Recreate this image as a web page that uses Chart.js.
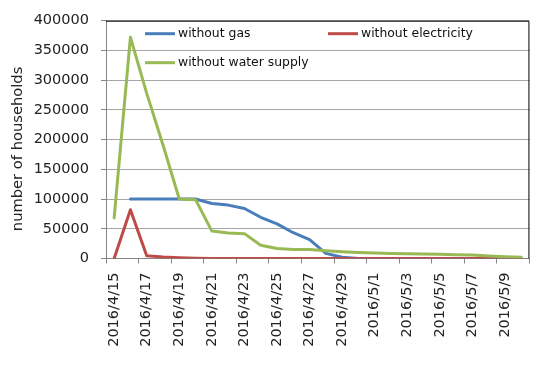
<!DOCTYPE html>
<html>
<head>
<meta charset="utf-8">
<script src="https://cdn.jsdelivr.net/npm/chart.js@4.4.1/dist/chart.umd.min.js"></script>
<style>
  html, body { margin: 0; padding: 0; background: #fff; }
  #wrap { width: 548px; height: 365px; }
</style>
</head>
<body>
<div id="wrap"><canvas id="outageChart"></canvas></div>
<script>
// days after the earthquake
var dates = ['2016/4/15','2016/4/16','2016/4/17','2016/4/18','2016/4/19','2016/4/20','2016/4/21',
  '2016/4/22','2016/4/23','2016/4/24','2016/4/25','2016/4/26','2016/4/27','2016/4/28','2016/4/29',
  '2016/4/30','2016/5/1','2016/5/2','2016/5/3','2016/5/4','2016/5/5','2016/5/6','2016/5/7',
  '2016/5/8','2016/5/9','2016/5/10'];

var withoutGas = [null, 100000, 100000, 100000, 100000, 100000, 92500, 89800, 84200, 69300, 58300,
  43400, 31800, 8600, 2000, 0, 0, 0, 0, 0, 0, 0, 0, 0, 0, 0];
var withoutElectricity = [0, 82000, 4700, 2500, 1200, 500, 0, 0, 0, 0, 0, 0, 0, 0, 0, 0, 0, 0, 0,
  0, 0, 0, 0, 0, 0, 0];
var withoutWater = [68300, 372200, 277700, 191000, 100000, 99000, 46100, 42800, 41800, 22400, 16900,
  15200, 15000, 12900, 11300, 10200, 9100, 8600, 8000, 7500, 7000, 6500, 5800, 4100, 3000, 2000];

var yTicks = [0, 50000, 100000, 150000, 200000, 250000, 300000, 350000, 400000];

var FONT = 'DejaVu Sans';
var axisGray = '#868686';

// legend drawn inside the plot, two columns like the original
var insideLegend = {
  id: 'insideLegend',
  afterDraw: function(chart) {
    var ctx = chart.ctx;
    var a = chart.chartArea;
    var spots = [[a.left + 39, a.top + 13], [a.left + 222, a.top + 13], [a.left + 39, a.top + 42]];
    ctx.save();
    ctx.font = '12.4px ' + FONT;
    ctx.textBaseline = 'middle';
    ctx.fillStyle = '#111';
    chart.data.datasets.forEach(function(ds, i) {
      var p = spots[i];
      ctx.strokeStyle = ds.borderColor;
      ctx.lineWidth = 3;
      ctx.beginPath();
      ctx.moveTo(p[0], p[1]);
      ctx.lineTo(p[0] + 30, p[1]);
      ctx.stroke();
      ctx.fillText(ds.label, p[0] + 33, p[1] + 0.5);
    });
    ctx.restore();
  }
};

// black frame on top and right of the plot
var plotFrame = {
  id: 'plotFrame',
  beforeDatasetsDraw: function(chart) {
    var ctx = chart.ctx;
    var a = chart.chartArea;
    ctx.save();
    ctx.strokeStyle = '#000';
    ctx.lineWidth = 1;
    ctx.beginPath();
    ctx.moveTo(a.left, a.top + 0.5);
    ctx.lineTo(a.right - 0.5, a.top + 0.5);
    ctx.lineTo(a.right - 0.5, a.bottom);
    ctx.stroke();
    ctx.restore();
  }
};

var ctx = document.getElementById('outageChart').getContext('2d');
var outageChart = new Chart(ctx, {
  type: 'line',
  data: {
    labels: dates,
    datasets: [{
      label: 'without gas',
      data: withoutGas,
      borderColor: '#4a7ebb',
      order: 2
    }, {
      label: 'without electricity',
      data: withoutElectricity,
      borderColor: '#be4b48',
      order: 1
    }, {
      label: 'without water supply',
      data: withoutWater,
      borderColor: '#98b954',
      order: 0
    }]
  },
  options: {
    responsive: true,
    maintainAspectRatio: false,
    animation: false,
    devicePixelRatio: 1,
    layout: { padding: { top: 17, right: 16, left: 0, bottom: 0 } },
    elements: {
      line: { borderWidth: 3, tension: 0, borderCapStyle: 'round', borderJoinStyle: 'round' },
      point: { radius: 0, hoverRadius: 0 }
    },
    plugins: {
      legend: { display: false },
      tooltip: { enabled: false }
    },
    scales: {
      x: {
        type: 'category',
        offset: true,
        grid: {
          offset: true,
          drawOnChartArea: false,
          drawTicks: true,
          tickLength: 5,
          tickColor: function(c) {
            return (c.index === undefined || c.index % 2 === 0) ? axisGray : 'rgba(0,0,0,0)';
          }
        },
        border: { color: axisGray, width: 1 },
        ticks: {
          autoSkip: false,
          minRotation: 90,
          maxRotation: 90,
          padding: 9,
          color: '#222',
          font: { family: FONT, size: 14.5 },
          callback: function(value, index) {
            return index % 2 === 0 ? this.getLabelForValue(value) : '';
          }
        },
        afterFit: function(scale) { scale.height = 106.5; }
      },
      y: {
        min: 0,
        max: 400000,
        afterBuildTicks: function(scale) {
          scale.ticks = yTicks.map(function(v) { return { value: v }; });
        },
        grid: {
          color: '#a6a6a6',
          tickColor: axisGray,
          tickLength: 5
        },
        border: { color: axisGray, width: 1 },
        ticks: {
          padding: 12,
          color: '#222',
          font: { family: FONT, size: 14.5 },
          callback: function(v) { return String(v); }
        },
        title: {
          display: true,
          // trailing spaces nudge the rotated title a bit lower, as in the original
          text: 'number of households    ',
          color: '#222',
          font: { family: FONT, size: 14.7 },
          padding: { top: 9, bottom: 0 }
        },
        afterFit: function(scale) { scale.width = 106; }
      }
    }
  },
  plugins: [plotFrame, insideLegend]
});
</script>
</body>
</html>
